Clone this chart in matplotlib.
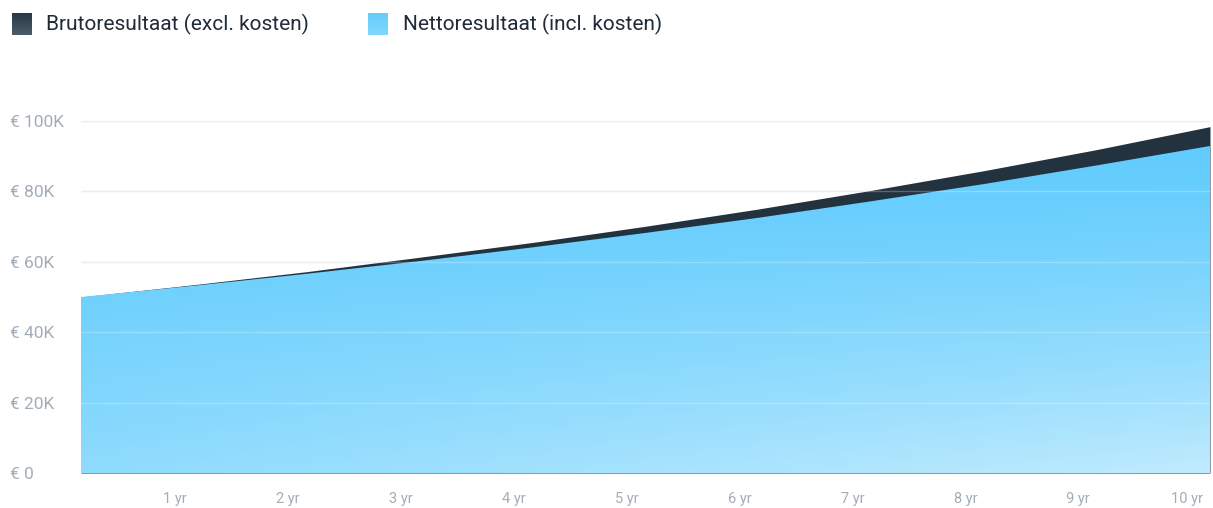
import numpy as np
import matplotlib
matplotlib.use("Agg")
import matplotlib.pyplot as plt
import matplotlib.transforms as mtrans
from matplotlib.patches import Polygon

plt.rcParams['font.family'] = ['Roboto', 'DejaVu Sans']

# values (euro), one point per year
years = [0, 1, 2, 3, 4, 5, 6, 7, 8, 9, 10]
bruto = [50000, 53500, 57200, 61300, 65500, 70100, 75000, 80300, 85900, 91900, 98400]
netto = [50000, 53200, 56600, 60200, 64100, 68200, 72500, 77200, 82100, 87400, 92900]
x_labels = ['1 yr', '2 yr', '3 yr', '4 yr', '5 yr', '6 yr', '7 yr', '8 yr', '9 yr', '10 yr']
y_ticks = [0, 20000, 40000, 60000, 80000, 100000]
y_labels = ['€ 0', '€ 20K', '€ 40K', '€ 60K', '€ 80K', '€ 100K']
legend_labels = ['Brutoresultaat (excl. kosten)', 'Nettoresultaat (incl. kosten)']

W, H = 1213, 508
fig = plt.figure(figsize=(W / 100, H / 100), dpi=100)
ax = fig.add_axes([81 / W, (H - 473) / H, (1210 - 81) / W, (473 - 121) / H])

ymax = 100000
ax.set_xlim(0, 10)
ax.set_ylim(0, ymax)

# dark band (bruto)
ax.fill_between(years, 0, bruto, color='#22323f', lw=0, zorder=1)

# gradient fill for netto
top_c = np.array([94, 203, 253]) / 255
bot_c = np.array([192, 235, 254]) / 255
gx, gy = np.meshgrid(np.linspace(0, 10, 300), np.linspace(0, ymax, 300))
t = (1 - gy / ymax) ** 1.4 * (0.5 + 0.5 * gx / 10)
img = top_c[None, None, :] * (1 - t[..., None]) + bot_c[None, None, :] * t[..., None]
im = ax.imshow(img, extent=[0, 10, 0, ymax], origin='lower', aspect='auto', zorder=2)
verts = [(0, 0)] + list(zip(years, netto)) + [(10, 0)]
poly = Polygon(verts, closed=True, facecolor='none', edgecolor='none', transform=ax.transData)
ax.add_patch(poly)
im.set_clip_path(poly)

# grid lines
for v in y_ticks[1:]:
    ax.axhline(v, color='#e4e9ef', lw=1, zorder=0)
    ax.axhline(v, color='white', lw=1, alpha=0.25, zorder=3)

for s in ax.spines.values():
    s.set_visible(False)

ax.set_yticks(y_ticks)
ax.set_yticklabels(y_labels)
ax.tick_params(axis='y', length=0, pad=51, labelsize=12.5, labelcolor='#a3adb8')
for lab in ax.get_yticklabels():
    lab.set_horizontalalignment('left')

ax.set_xticks(years[1:])
ax.set_xticklabels(x_labels)
ax.tick_params(axis='x', length=0, pad=14, labelsize=10.5, labelcolor='#a3adb8')
offset = mtrans.ScaledTranslation(-7 / 100, 0, fig.dpi_scale_trans)
for lab in ax.get_xticklabels():
    lab.set_horizontalalignment('right')
    lab.set_transform(lab.get_transform() + offset)

# legend
def legend_square(x0, y0, c1, c2):
    lax = fig.add_axes([x0 / W, (H - y0 - 22) / H, 20 / W, 22 / H])
    g = np.linspace(0, 1, 50)[:, None, None]
    lax.imshow(np.array(c1)[None, None, :] * (1 - g) + np.array(c2)[None, None, :] * g,
               aspect='auto', extent=[0, 1, 0, 1])
    lax.axis('off')

legend_square(12, 13, [0.16, 0.22, 0.27], [0.30, 0.36, 0.41])
legend_square(368, 13, [0.40, 0.80, 0.99], [0.50, 0.85, 0.99])
fig.text(46 / W, (H - 24) / H, legend_labels[0], fontsize=15, color='#1f2b36', va='center')
fig.text(403 / W, (H - 24) / H, legend_labels[1], fontsize=15, color='#1f2b36', va='center')

fig.savefig('out.png', dpi=100)
